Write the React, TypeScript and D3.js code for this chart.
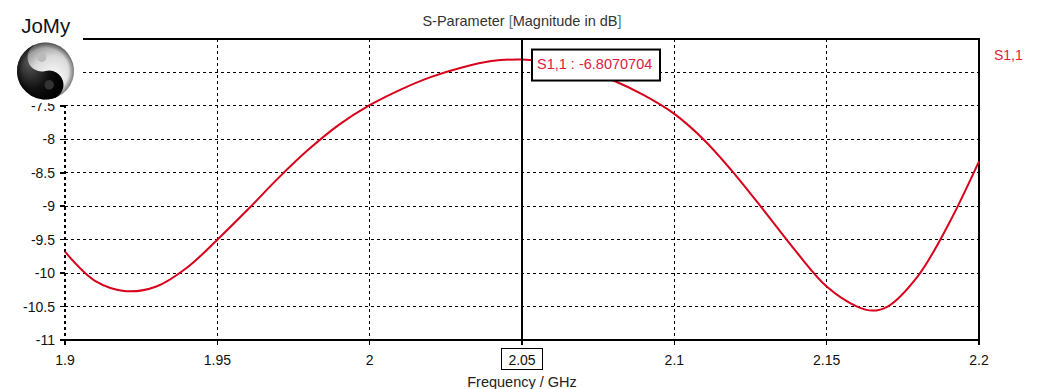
import { useEffect, useRef } from 'react';
import * as d3 from 'd3';

// S1,1 magnitude
const freqs = [1.9, 1.91, 1.92, 1.93, 1.94, 1.95, 1.96, 1.97, 1.98, 1.99, 2.0, 2.01, 2.02, 2.03, 2.04, 2.05, 2.06, 2.07, 2.08, 2.09, 2.1, 2.11, 2.12, 2.13, 2.14, 2.15, 2.16, 2.165, 2.17, 2.18, 2.19, 2.2];
const s11 = [-9.68, -10.12, -10.27, -10.2, -9.92, -9.5, -9.05, -8.58, -8.15, -7.78, -7.49, -7.26, -7.07, -6.93, -6.83, -6.807, -6.85, -6.96, -7.12, -7.34, -7.62, -8.02, -8.53, -9.1, -9.68, -10.2, -10.5, -10.56, -10.5, -10.04, -9.27, -8.33];
const xTicks = [1.9, 1.95, 2.0, 2.05, 2.1, 2.15, 2.2];
const yTicks = [-11, -10.5, -10, -9.5, -9, -8.5, -8, -7.5, -7, -6.5];
// the logo sits over the two top labels
const yLabels = [-11, -10.5, -10, -9.5, -9, -8.5, -8, -7.5];
const markerFreq = 2.05;
const markerValue = -6.8070704;

const FONT = '"Liberation Sans", Arial, sans-serif';

const SParamChart = () => {
  const ref = useRef<HTMLDivElement>(null);

  useEffect(() => {
    const el = ref.current;
    if (!el) return;
    document.body.style.margin = '0';
    d3.select(el).selectAll('*').remove();

    const W = 1049, H = 389;
    const margin = { top: 39, right: 70, bottom: 49, left: 65 };
    const width = W - margin.left - margin.right;
    const height = H - margin.top - margin.bottom;

    const svg = d3.select(el)
      .append('svg')
      .attr('width', W)
      .attr('height', H)
      .style('display', 'block')
      .style('font-family', FONT);

    svg.append('rect').attr('width', W).attr('height', H).attr('fill', '#fff');

    const g = svg.append('g').attr('transform', `translate(${margin.left},${margin.top})`);

    const x = d3.scaleLinear().domain([1.9, 2.2]).range([0, width]);
    const y = d3.scaleLinear().domain([-11, -6.5]).range([height, 0]);

    // grid
    g.selectAll('.hgrid')
      .data(yTicks.slice(1))
      .enter().append('line')
      .attr('x1', 0).attr('x2', width)
      .attr('y1', d => y(d)).attr('y2', d => y(d))
      .attr('stroke', '#000').attr('stroke-width', 1)
      .attr('stroke-dasharray', '3,3')
      .attr('shape-rendering', 'crispEdges');

    g.selectAll('.vgrid')
      .data(xTicks.filter(d => d !== markerFreq && d !== 2.2))
      .enter().append('line')
      .attr('x1', d => x(d)).attr('x2', d => x(d))
      .attr('y1', 0).attr('y2', height)
      .attr('stroke', '#000').attr('stroke-width', d => (d === 1.9 ? 1.5 : 1))
      .attr('stroke-dasharray', '3,3')
      .attr('shape-rendering', 'crispEdges');

    // frame: top, right, bottom solid
    g.append('path')
      .attr('d', `M0,0H${width}V${height}H0`)
      .attr('fill', 'none')
      .attr('stroke', '#000')
      .attr('stroke-width', 1.5)
      .attr('shape-rendering', 'crispEdges');

    // tick marks
    g.selectAll('.ytick')
      .data(yTicks)
      .enter().append('line')
      .attr('x1', -5).attr('x2', 0)
      .attr('y1', d => y(d)).attr('y2', d => y(d))
      .attr('stroke', '#000').attr('stroke-width', 1.5)
      .attr('shape-rendering', 'crispEdges');
    g.selectAll('.xtick')
      .data(xTicks)
      .enter().append('line')
      .attr('x1', d => x(d)).attr('x2', d => x(d))
      .attr('y1', height).attr('y2', height + 5)
      .attr('stroke', '#000').attr('stroke-width', 1.5)
      .attr('shape-rendering', 'crispEdges');

    // tick labels
    g.selectAll('.ylabel')
      .data(yLabels)
      .enter().append('text')
      .attr('x', -10)
      .attr('y', d => y(d))
      .attr('dy', '0.36em')
      .attr('text-anchor', 'end')
      .attr('font-size', 14)
      .attr('fill', '#111')
      .text(d => String(d));

    g.selectAll('.xlabel')
      .data(xTicks)
      .enter().append('text')
      .attr('x', d => x(d))
      .attr('y', height + 25)
      .attr('text-anchor', 'middle')
      .attr('font-size', 14)
      .attr('fill', '#111')
      .text(d => String(d));

    // boxed marker tick label
    g.append('rect')
      .attr('x', x(markerFreq) - 20.5)
      .attr('y', height + 8.5)
      .attr('width', 41)
      .attr('height', 21)
      .attr('fill', 'none')
      .attr('stroke', '#000')
      .attr('stroke-width', 1);

    g.append('text')
      .attr('x', x(markerFreq))
      .attr('y', height + 47)
      .attr('text-anchor', 'middle')
      .attr('font-size', 14.5)
      .attr('fill', '#222')
      .text('Frequency / GHz');

    // curve
    const line = d3.line<number>()
      .x((_, i) => x(freqs[i]))
      .y(d => y(d))
      .curve(d3.curveCatmullRom.alpha(0.5));

    g.append('path')
      .datum(s11)
      .attr('fill', 'none')
      .attr('stroke', '#d8001a')
      .attr('stroke-width', 2)
      .attr('d', line);

    // marker line
    g.append('line')
      .attr('x1', x(markerFreq)).attr('x2', x(markerFreq))
      .attr('y1', 0).attr('y2', height)
      .attr('stroke', '#000').attr('stroke-width', 2);

    // marker box
    const bx = x(markerFreq) + 10;
    const by = y(markerValue) - 10;
    g.append('rect')
      .attr('x', bx).attr('y', by)
      .attr('width', 128).attr('height', 31)
      .attr('fill', '#fff')
      .attr('stroke', '#000').attr('stroke-width', 2);
    g.append('text')
      .attr('x', bx + 5)
      .attr('y', by + 19)
      .attr('font-size', 14.5)
      .attr('fill', '#e0203c')
      .text(`S1,1 : ${markerValue}`);

    // legend
    svg.append('text')
      .attr('x', margin.left + width + 15)
      .attr('y', 60)
      .attr('font-size', 14)
      .attr('fill', '#e0203c')
      .text('S1,1');

    // title
    const title = svg.append('text')
      .attr('x', 522)
      .attr('y', 26)
      .attr('text-anchor', 'middle')
      .attr('font-size', 14.5)
      .attr('fill', '#333');
    title.append('tspan').text('S-Parameter ');
    title.append('tspan').attr('fill', '#4f7a74').text('[');
    title.append('tspan').text('Magnitude in dB');
    title.append('tspan').attr('fill', '#4f7a74').text(']');

    // logo
    const logo = svg.append('g');
    logo.append('rect').attr('x', 0).attr('y', 0).attr('width', 83).attr('height', 103).attr('fill', '#fff');
    logo.append('text')
      .attr('x', 45.7).attr('y', 33)
      .attr('text-anchor', 'middle')
      .attr('font-size', 20.5)
      .attr('fill', '#111')
      .text('JoMy');

    const defs = svg.append('defs');
    const dark = defs.append('radialGradient').attr('id', 'ydark').attr('cx', '35%').attr('cy', '30%').attr('r', '75%');
    dark.append('stop').attr('offset', '0%').attr('stop-color', '#555');
    dark.append('stop').attr('offset', '60%').attr('stop-color', '#111');
    dark.append('stop').attr('offset', '100%').attr('stop-color', '#000');
    const light = defs.append('radialGradient').attr('id', 'ylight').attr('cx', '60%').attr('cy', '65%').attr('r', '70%');
    light.append('stop').attr('offset', '0%').attr('stop-color', '#fff');
    light.append('stop').attr('offset', '55%').attr('stop-color', '#d8d8d8');
    light.append('stop').attr('offset', '100%').attr('stop-color', '#777');
    const rim = defs.append('radialGradient').attr('id', 'yrim').attr('cx', '50%').attr('cy', '50%').attr('r', '50%');
    rim.append('stop').attr('offset', '80%').attr('stop-color', '#000').attr('stop-opacity', 0);
    rim.append('stop').attr('offset', '100%').attr('stop-color', '#000').attr('stop-opacity', 0.45);

    const r = 28.5;
    const yy = logo.append('g').attr('transform', 'translate(45.5,71) rotate(-15)');
    yy.append('circle').attr('r', r).attr('fill', 'url(#ylight)');
    yy.append('path')
      .attr('d', `M0,${-r} A${r},${r} 0 0,0 0,${r} A${r / 2},${r / 2} 0 0,0 0,0 A${r / 2},${r / 2} 0 0,1 0,${-r}Z`)
      .attr('fill', 'url(#ydark)');
    yy.append('circle').attr('cy', -r / 2).attr('r', r / 6).attr('fill', '#bbb');
    yy.append('circle').attr('cy', r / 2).attr('r', r / 6).attr('fill', '#333');
    yy.append('circle').attr('r', r).attr('fill', 'url(#yrim)');
  }, []);

  return <div ref={ref}></div>;
};

export default function App() {
  return <SParamChart />;
}
